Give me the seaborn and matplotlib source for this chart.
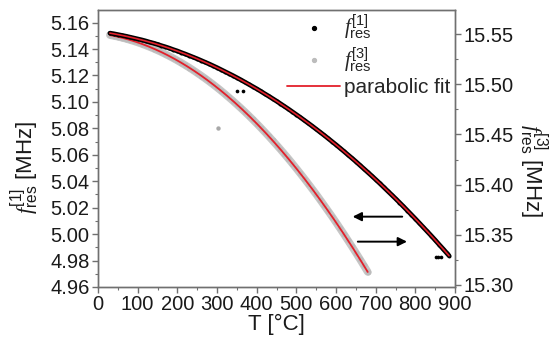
import numpy as np
import pandas as pd
import matplotlib
matplotlib.use("Agg")
import matplotlib.pyplot as plt
import seaborn as sns
from matplotlib.lines import Line2D

# ---------------- data ----------------
# fundamental resonance f_res^[1] (left axis), T in degC
T1 = list(range(30, 890, 10)) + [885]
f1 = [5.1520, 5.1515, 5.1509, 5.1503, 5.1497, 5.1490, 5.1483, 5.1476, 5.1469, 5.1461,
      5.1452, 5.1444, 5.1435, 5.1425, 5.1416, 5.1406, 5.1395, 5.1385, 5.1373, 5.1362,
      5.1350, 5.1338, 5.1326, 5.1313, 5.1300, 5.1287, 5.1273, 5.1259, 5.1244, 5.1229,
      5.1214, 5.1199, 5.1183, 5.1167, 5.1150, 5.1133, 5.1116, 5.1099, 5.1081, 5.1062,
      5.1044, 5.1025, 5.1006, 5.0986, 5.0966, 5.0946, 5.0925, 5.0904, 5.0883, 5.0861,
      5.0839, 5.0817, 5.0794, 5.0771, 5.0748, 5.0724, 5.0700, 5.0676, 5.0651, 5.0626,
      5.0600, 5.0575, 5.0549, 5.0522, 5.0495, 5.0468, 5.0441, 5.0413, 5.0385, 5.0356,
      5.0327, 5.0298, 5.0269, 5.0239, 5.0209, 5.0178, 5.0147, 5.0116, 5.0084, 5.0052,
      5.0020, 4.9988, 4.9955, 4.9921, 4.9888, 4.9854, 4.9837]
T1_out = [350, 365, 852, 858, 864]
f1_out = [5.1080, 5.1080, 4.9830, 4.9830, 4.9830]

# third harmonic f_res^[3] (right axis)
T3 = list(range(30, 690, 10))
f3 = [15.5490, 15.5482, 15.5474, 15.5464, 15.5454, 15.5442, 15.5430, 15.5417, 15.5403, 15.5388,
      15.5372, 15.5356, 15.5338, 15.5320, 15.5300, 15.5280, 15.5259, 15.5237, 15.5214, 15.5190,
      15.5166, 15.5140, 15.5113, 15.5086, 15.5058, 15.5029, 15.4999, 15.4968, 15.4936, 15.4903,
      15.4869, 15.4835, 15.4799, 15.4763, 15.4726, 15.4688, 15.4649, 15.4609, 15.4568, 15.4526,
      15.4484, 15.4440, 15.4396, 15.4351, 15.4305, 15.4258, 15.4210, 15.4161, 15.4111, 15.4061,
      15.4009, 15.3957, 15.3904, 15.3849, 15.3794, 15.3738, 15.3682, 15.3624, 15.3565, 15.3506,
      15.3445, 15.3384, 15.3322, 15.3259, 15.3195, 15.3130]
T3_out = [303]
f3_out = [15.4560]

x_ticks = [0, 100, 200, 300, 400, 500, 600, 700, 800, 900]
left_ticks = [4.96, 4.98, 5.00, 5.02, 5.04, 5.06, 5.08, 5.10, 5.12, 5.14, 5.16]
right_ticks = [15.30, 15.35, 15.40, 15.45, 15.50, 15.55]

# ---------------- style ----------------
sns.set_style("ticks")
plt.rcParams['font.family'] = ['Liberation Sans', 'DejaVu Sans']
plt.rcParams['mathtext.fontset'] = 'custom'
plt.rcParams['mathtext.rm'] = 'Liberation Sans'
plt.rcParams['mathtext.it'] = 'Liberation Serif:italic'
plt.rcParams['mathtext.bf'] = 'Liberation Sans:bold'

FS = 14.5
LFS = 16
SPINE = '#707070'
TXT = '#1a1a1a'
RED = '#e3202b'
GRAY = '#bcbcbc'

fig = plt.figure(figsize=(5.56, 3.44), dpi=100)
ax = fig.add_axes([98/556, 1-287/344, (455-98)/556, (287-10)/344])
ax2 = ax.twinx()
ax.set_zorder(ax2.get_zorder() + 1)
ax.patch.set_visible(False)

df1 = pd.DataFrame({'T': T1, 'f': f1})
df1o = pd.DataFrame({'T': T1_out, 'f': f1_out})
df3 = pd.DataFrame({'T': T3, 'f': f3})
df3o = pd.DataFrame({'T': T3_out, 'f': f3_out})

# gray (third harmonic) on the right axis: dense points form a band
sns.lineplot(data=df3, x='T', y='f', ax=ax2, color=GRAY, lw=5.5, alpha=0.85, legend=False)
sns.scatterplot(data=df3, x='T', y='f', ax=ax2, color=GRAY, s=18, linewidth=0, legend=False)
sns.scatterplot(data=df3o, x='T', y='f', ax=ax2, color='#a8a8a8', s=10, linewidth=0, legend=False)
c3 = np.polyfit(T3, f3, 2)
tf3 = np.linspace(min(T3), max(T3), 200)
sns.lineplot(x=tf3, y=np.polyval(c3, tf3), ax=ax2, color=RED, lw=1.3, legend=False)

# black (fundamental) on the left axis
sns.lineplot(data=df1, x='T', y='f', ax=ax, color='black', lw=3.4, legend=False)
sns.scatterplot(data=df1, x='T', y='f', ax=ax, color='black', s=8, linewidth=0, legend=False)
sns.scatterplot(data=df1o, x='T', y='f', ax=ax, color='black', s=7, linewidth=0, legend=False)
c1 = np.polyfit(T1, f1, 2)
tf1 = np.linspace(min(T1), max(T1), 200)
sns.lineplot(x=tf1, y=np.polyval(c1, tf1), ax=ax, color=RED, lw=1.2, legend=False)

# axes limits / ticks
ax.set_xlim(0, 900)
ax.set_ylim(4.96, 5.1695)
ax2.set_ylim(15.298, 15.574)
ax.set_xticks(x_ticks)
ax.set_xticklabels([str(v) for v in x_ticks])
ax.set_yticks(left_ticks)
ax.set_yticklabels([f"{v:.2f}" for v in left_ticks])
ax2.set_yticks(right_ticks)
ax2.set_yticklabels([f"{v:.2f}" for v in right_ticks])
ax.xaxis.set_minor_locator(matplotlib.ticker.MultipleLocator(50))
ax.yaxis.set_minor_locator(matplotlib.ticker.MultipleLocator(0.01))
ax2.yaxis.set_minor_locator(matplotlib.ticker.MultipleLocator(0.025))

for a in (ax, ax2):
    for s in a.spines.values():
        s.set_color(SPINE)
        s.set_linewidth(1.0)
        s.set_visible(True)
    a.tick_params(which='major', direction='out', length=4, width=1, color=SPINE,
                  labelsize=FS, labelcolor=TXT, pad=2)
    a.tick_params(which='minor', direction='out', length=2.5, width=0.8, color=SPINE)
ax.tick_params(axis='y', which='both', right=False)
ax.tick_params(axis='x', which='both', top=False)

ax.set_xlabel("T [°C]", fontsize=LFS, color=TXT, labelpad=0)
ax.set_ylabel(r"$f^{[1]}_{\mathrm{res}}$ [MHz]", fontsize=LFS, color=TXT)
ax2.set_ylabel(r"$f^{[3]}_{\mathrm{res}}$ [MHz]", fontsize=LFS, color=TXT, rotation=270)
ax.yaxis.set_label_coords(-0.16, 0.43)
ax2.yaxis.set_label_coords(1.265, 0.42)

# arrows indicating axes
ax.annotate("", xy=(635, 5.0132), xytext=(774, 5.0132),
            arrowprops=dict(arrowstyle='-|>', color='black', lw=1.4, mutation_scale=13))
ax.annotate("", xy=(786, 4.9943), xytext=(648, 4.9943),
            arrowprops=dict(arrowstyle='-|>', color='black', lw=1.4, mutation_scale=13))

# legend
handles = [Line2D([], [], ls='none', marker='o', ms=2.8, color='black'),
           Line2D([], [], ls='none', marker='o', ms=2.8, color=GRAY),
           Line2D([], [], color=RED, lw=1.3)]
labels = [r"$f^{[1]}_{\mathrm{res}}$", r"$f^{[3]}_{\mathrm{res}}$", "parabolic fit"]
ax.legend(handles, labels, loc='upper right', bbox_to_anchor=(0.995, 1.0), frameon=False,
          fontsize=15, handlelength=2.5, handletextpad=0.2, labelspacing=0.15,
          borderaxespad=0.0, borderpad=0.15)

fig.savefig("out.png", dpi=100)
